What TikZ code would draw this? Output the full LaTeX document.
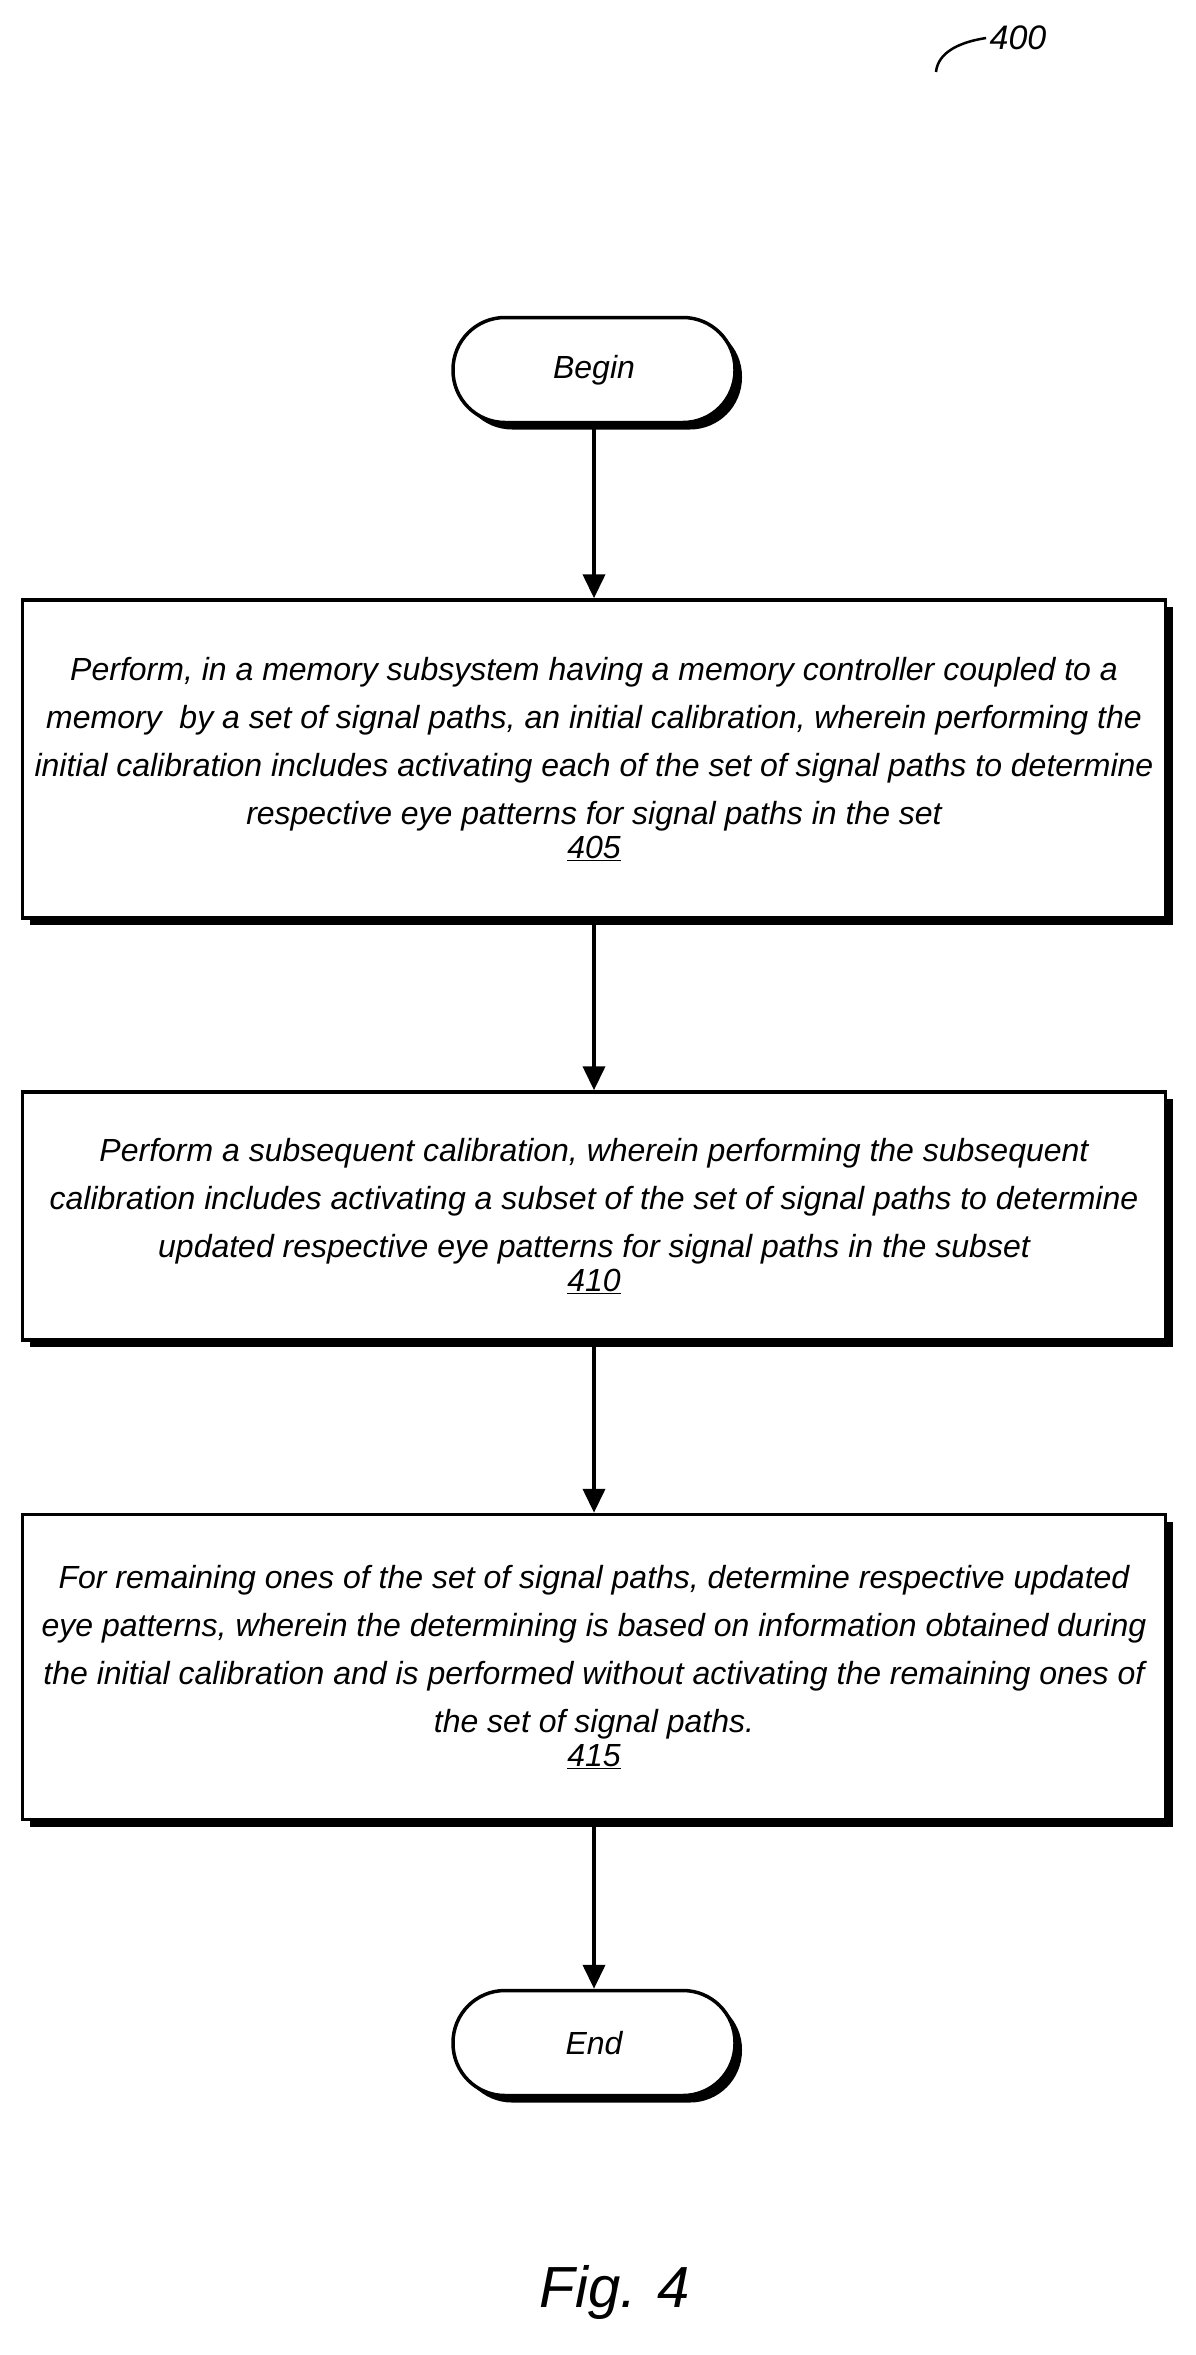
\documentclass[tikz,border=0pt]{standalone}
\usepackage{fontspec}
\setmainfont{Liberation Sans}
\usetikzlibrary{arrows.meta,shadows}
\begin{document}
\begin{tikzpicture}[x=1pt,y=-1pt,
  every node/.style={font=\itshape\fontsize{32}{48}\selectfont},
  box/.style={draw,line width=3.5pt,fill=white,minimum width=1143pt,align=center,inner sep=0pt,
    drop shadow={shadow xshift=7pt,shadow yshift=-7pt,fill=black,opacity=1}},
  term/.style={draw,line width=3.5pt,fill=white,rounded corners=52pt,minimum width=282pt,minimum height=105pt,
    drop shadow={shadow xshift=7pt,shadow yshift=-7pt,fill=black,opacity=1}},
  arr/.style={line width=4pt,-{Triangle[length=24pt,width=22pt]}}]
\useasboundingbox (0,0) rectangle (1195,2355);
\node[term] (b) at (594,370) {Begin};
\node[box,minimum height=318pt] (s1) at (594,759) {Perform, in a memory subsystem having a memory controller coupled to a\\memory\ \ by a set of signal paths, an initial calibration, wherein performing the\\initial calibration includes activating each of the set of signal paths to determine\\respective eye patterns for signal paths in the set\\[-14pt]\underline{405}};
\node[box,minimum height=248pt] (s2) at (594,1216) {Perform a subsequent calibration, wherein performing the subsequent\\calibration includes activating a subset of the set of signal paths to determine\\updated respective eye patterns for signal paths in the subset\\[-14pt]\underline{410}};
\node[box,minimum height=305pt] (s3) at (594,1667) {For remaining ones of the set of signal paths, determine respective updated\\eye patterns, wherein the determining is based on information obtained during\\the initial calibration and is performed without activating the remaining ones of\\the set of signal paths.\\[-14pt]\underline{415}};
\node[term] (e) at (594,2043) {End};
\draw[arr] (b) -- (s1);
\draw[arr] (s1) -- (s2);
\draw[arr] (s2) -- (s3);
\draw[arr] (s3) -- (e);
\node[font=\itshape\fontsize{58}{60}\selectfont] (f) at (615,2292) {Fig. 4};
\node[font=\itshape\fontsize{34}{40}\selectfont] (n) at (1018,38) {400};
\coordinate (h) at (936,72);
\draw[line width=2.5pt] (h) .. controls (938,52) and (960,42) .. (n.west);
\end{tikzpicture}
\end{document}
